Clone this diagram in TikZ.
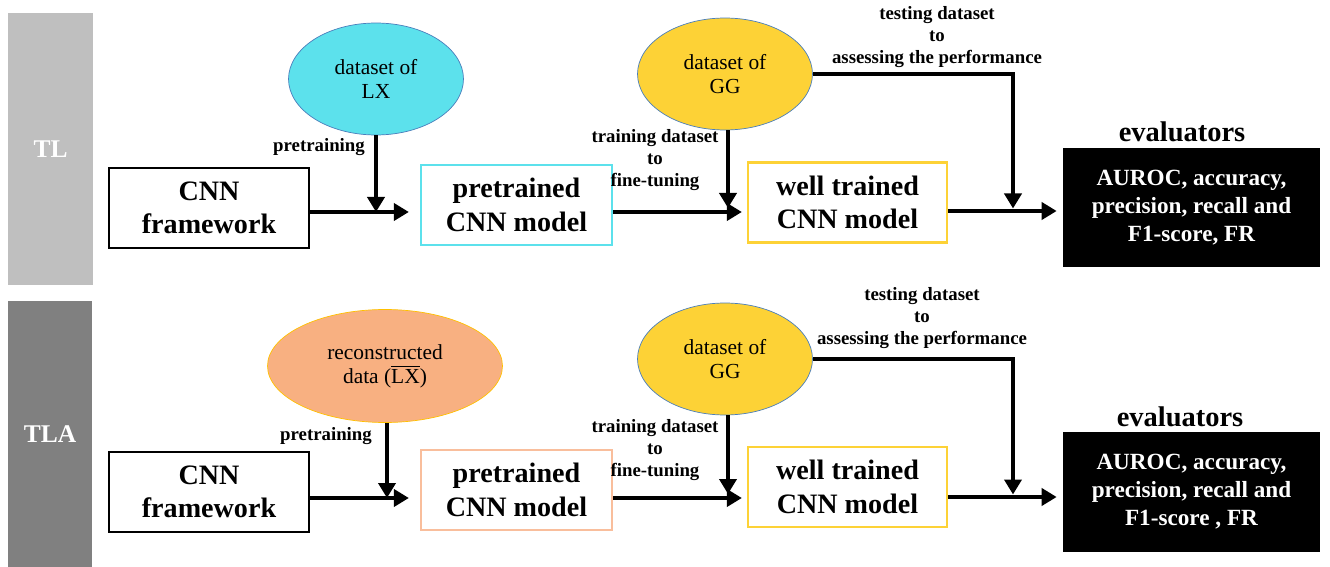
\documentclass[tikz,border=0pt]{standalone}
\usepackage{fontspec}
\setmainfont{Liberation Serif}
\usepackage{tikz}
\usetikzlibrary{shapes.geometric, arrows.meta, positioning}
\definecolor{lxcyan}{HTML}{5CE1EC}
\definecolor{ggyellow}{HTML}{FDD236}
\definecolor{recorange}{HTML}{F8B081}
\definecolor{recline}{HTML}{FFC000}
\definecolor{pinkline}{HTML}{F9BE9C}
\definecolor{edgeblue}{HTML}{4A7EBB}
\tikzset{
    block/.style={
           rectangle,
           draw=black, line width=1.3pt,
           minimum width=4cm,
           minimum height=1.6cm,
           inner sep=2pt,
           align=center,
           font=\fontsize{16}{19}\selectfont\bfseries,
           },
    dataset/.style={
           ellipse,
           draw=edgeblue, thin,
           minimum width=3.5cm,
           minimum height=2.24cm,
           inner sep=0pt,
           align=center,
           font=\fontsize{12.2}{13.5}\selectfont,
           },
    evalbox/.style={
           rectangle,
           fill=black, text=white,
           minimum width=5.14cm,
           minimum height=2.38cm,
           align=center,
           font=\fontsize{13.2}{16}\selectfont\bfseries,
           },
    phase/.style={
           rectangle,
           text=white,
           minimum width=1.7cm,
           inner sep=0pt,
           font=\fontsize{14.5}{16}\selectfont\bfseries,
           },
    note/.style={align=center, font=\fontsize{10.7}{12.7}\selectfont\bfseries},
    flow/.style={-{Triangle[length=0.3cm,width=0.34cm]}, line width=2.4pt},
}

\begin{document}
\begin{tikzpicture}[x=0.02cm, y=-0.02cm]
  \useasboundingbox (0,0) rectangle (1330,567);

  % TL
  \node[phase, fill=black!25, minimum height=5.44cm]  (tl)    at (50.5,149)   {TL};
  \node[block]                                        (fw1)   at (209,208)    {CNN\\framework};
  \node[block, draw=lxcyan, minimum width=3.82cm]     (pre1)  at (516.5,205)  {pretrained\\CNN model};
  \node[block, draw=ggyellow, minimum width=3.98cm]   (well1) at (847.5,202.5){well trained\\CNN model};
  \node[evalbox]                                      (ev1)   at (1191.5,207.5){AUROC, accuracy,\\precision, recall and\\F1-score, FR};
  \node[dataset, fill=lxcyan]                         (lx1)   at (376,79)     {dataset of\\LX};
  \node[dataset, fill=ggyellow]                       (gg1)   at (725,74)     {dataset of\\GG};
  \node[note]                                         (pt1)   at (319,147)    {pretraining};
  \node[note]                                         (tr1)   at (655,160)    {training dataset\\to\\fine-tuning};
  \node[note]                                         (te1)   at (937,37)     {testing dataset\\to\\assessing the performance};
  \node[font=\fontsize{16.2}{18}\selectfont\bfseries] (evl1)  at (1182,132)   {evaluators};
  \coordinate (r1) at (0,212);
  \coordinate (t1) at (1013,211);

  \draw[flow, shorten >=0.22cm] (fw1.east |- r1) -- (pre1.west |- r1);
  \draw[flow] (lx1.south) -- (lx1.south |- r1);
  \draw[flow, shorten >=0.1cm] (pre1.east |- r1) -- (well1.west |- r1);
  \draw[flow] (gg1.south -| 728,0) -- (728,208);
  \draw[flow, shorten >=0.12cm] (well1.east |- t1) -- (ev1.west |- t1);
  \draw[flow, shorten >=0.05cm] (gg1.east) -| (t1);

  % TLA
  \node[phase, fill=black!50, minimum height=5.34cm, minimum width=1.68cm] (tla) at (50,434) {TLA};
  \node[block]                                        (fw2)   at (209,492)    {CNN\\framework};
  \node[block, draw=pinkline, minimum width=3.82cm]   (pre2)  at (516.5,490)  {pretrained\\CNN model};
  \node[block, draw=ggyellow, minimum width=3.98cm]   (well2) at (847.5,487)  {well trained\\CNN model};
  \node[evalbox, minimum height=2.4cm]                (ev2)   at (1191.5,492) {AUROC, accuracy,\\precision, recall and\\F1-score , FR};
  \node[dataset, fill=recorange, draw=recline, minimum width=4.7cm, minimum height=2.26cm]
                                                      (lx2)   at (385,366)    {reconstructed\\data ($\overline{\mbox{LX}}$)};
  \node[dataset, fill=ggyellow]                       (gg2)   at (725,359)    {dataset of\\GG};
  \node[note]                                         (pt2)   at (326,436)    {pretraining};
  \node[note]                                         (tr2)   at (655,450)    {training dataset\\to\\fine-tuning};
  \node[note]                                         (te2)   at (922,318)    {testing dataset\\to\\assessing the performance};
  \node[font=\fontsize{16.2}{18}\selectfont\bfseries] (evl2)  at (1180,417)   {evaluators};
  \coordinate (r2) at (0,498);
  \coordinate (t2) at (1013,497);

  \draw[flow, shorten >=0.22cm] (fw2.east |- r2) -- (pre2.west |- r2);
  \draw[flow] (lx2.south -| 387,0) -- (387,498);
  \draw[flow, shorten >=0.1cm] (pre2.east |- r2) -- (well2.west |- r2);
  \draw[flow] (gg2.south -| 728,0) -- (728,494);
  \draw[flow, shorten >=0.12cm] (well2.east |- t2) -- (ev2.west |- t2);
  \draw[flow, shorten >=0.05cm] (gg2.east) -| (t2);
\end{tikzpicture}
\end{document}
